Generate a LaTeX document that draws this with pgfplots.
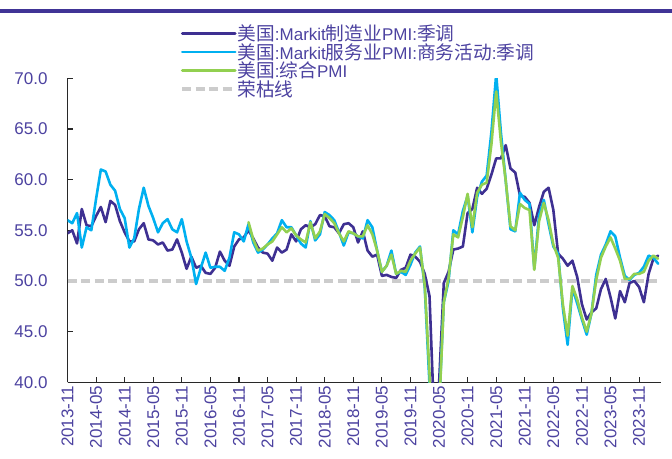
\documentclass[border=0pt]{standalone}
\usepackage{pgfplots}
\pgfplotsset{compat=1.18}
\usepackage{pgfplotstable}
\usepackage{fontspec}
\setmainfont{Liberation Sans}
\newfontfamily\cjk{Noto Sans CJK SC}[Scale=1.1]

\definecolor{mfgcol}{RGB}{62,48,146}
\definecolor{svccol}{RGB}{0,176,240}
\definecolor{cmpcol}{RGB}{146,208,80}
\definecolor{refcol}{RGB}{204,204,204}
\definecolor{txtcol}{RGB}{76,66,160}
\definecolor{barcol}{RGB}{64,52,150}
\definecolor{axcol}{RGB}{40,40,40}

% m = months since 2013-11; mfg / svc / cmp = US Markit PMIs (SA)
\pgfplotstableread{
m mfg svc cmp
0 54.7 56.0 nan
1 55.0 55.7 nan
2 53.7 56.7 nan
3 57.1 53.3 nan
4 55.5 55.3 nan
5 55.4 55.0 nan
6 56.4 58.1 nan
7 57.3 61.0 nan
8 55.8 60.8 nan
9 57.9 59.5 nan
10 57.5 58.9 nan
11 55.9 57.1 nan
12 54.8 56.2 nan
13 53.9 53.3 nan
14 53.9 54.2 nan
15 55.1 57.1 nan
16 55.7 59.2 nan
17 54.1 57.4 nan
18 54.0 56.2 nan
19 53.6 54.8 nan
20 53.8 55.7 nan
21 53.0 56.1 nan
22 53.1 55.1 nan
23 54.1 54.8 nan
24 52.8 56.1 nan
25 51.2 53.9 nan
26 52.4 52.3 nan
27 51.3 49.7 nan
28 51.5 51.3 nan
29 50.8 52.8 nan
30 50.7 51.3 nan
31 51.3 51.4 nan
32 52.9 51.4 nan
33 52.0 51.0 nan
34 51.5 52.3 nan
35 53.4 54.8 nan
36 54.1 54.6 nan
37 54.3 53.9 nan
38 55.0 55.6 55.8
39 54.2 53.8 54.1
40 53.3 52.8 53.0
41 52.8 53.1 53.2
42 52.7 53.6 53.6
43 52.0 54.2 53.9
44 53.3 54.7 54.6
45 52.8 56.0 55.3
46 53.1 55.3 54.8
47 54.6 55.3 55.2
48 53.9 54.5 54.5
49 55.1 53.7 54.1
50 55.5 53.3 53.8
51 55.3 55.9 55.8
52 55.6 54.0 54.2
53 56.5 54.6 54.9
54 56.4 56.8 56.6
55 55.4 56.5 56.2
56 55.3 56.0 55.7
57 54.7 54.8 54.7
58 55.6 53.5 53.9
59 55.7 54.8 54.9
60 55.3 54.7 54.7
61 53.8 54.4 54.4
62 54.9 54.2 54.4
63 53.0 56.0 55.5
64 52.4 55.3 54.6
65 52.6 53.0 53.0
66 50.5 50.9 50.9
67 50.6 51.5 51.5
68 50.4 53.0 52.6
69 50.3 50.7 50.7
70 51.1 50.9 51.0
71 51.3 50.6 50.9
72 52.6 51.6 52.0
73 52.4 52.8 52.7
74 51.9 53.4 53.3
75 50.7 49.4 49.6
76 48.5 39.8 40.9
77 36.1 26.7 27.0
78 39.8 37.5 37.0
79 49.8 47.9 47.9
80 50.9 50.0 50.3
81 53.1 55.0 54.6
82 53.2 54.6 54.3
83 53.4 56.9 56.3
84 56.7 58.4 58.6
85 57.1 54.8 55.3
86 59.2 58.3 58.7
87 58.6 59.8 59.5
88 59.1 60.4 59.7
89 60.5 64.7 63.5
90 62.1 70.4 68.7
91 62.1 64.6 63.7
92 63.4 59.9 59.9
93 61.1 55.1 55.4
94 60.7 54.9 55.0
95 58.4 58.7 57.6
96 58.3 58.0 57.2
97 57.7 57.6 57.0
98 55.5 51.2 51.1
99 57.3 56.5 55.9
100 58.8 58.0 57.7
101 59.2 55.6 56.0
102 57.0 53.4 53.6
103 52.7 52.7 52.3
104 52.2 47.3 47.7
105 51.5 43.7 44.6
106 52.0 49.3 49.5
107 50.4 47.8 48.2
108 47.7 46.2 46.4
109 46.2 44.7 45.0
110 46.9 46.8 46.8
111 47.3 50.6 50.1
112 49.2 52.6 52.3
113 50.2 53.6 53.4
114 48.4 54.9 54.3
115 46.3 54.4 53.2
116 49.0 52.3 52.0
117 47.9 50.5 50.2
118 49.8 50.1 50.2
119 50.0 50.6 50.7
120 49.4 50.8 50.7
121 47.9 51.4 50.9
122 50.7 52.5 52.0
123 52.2 52.3 52.5
124 52.5 51.7 52.2
}\pmidata

\pgfplotstableread{
m v
0 50
124.6 50
}\refline

\begin{document}
\begin{tikzpicture}
\useasboundingbox (0,0) rectangle (672pt,458pt);
\fill[barcol] (0,445pt) rectangle (672pt,449pt);
\begin{axis}[
  at={(67.5pt,75.7pt)}, anchor=south west,
  scale only axis, width=593.5pt, height=304pt,
  xmin=0, xmax=124.6, ymin=40, ymax=70,
  clip=true,
  axis x line=bottom, axis y line=left,
  axis line style={-, axcol, line width=1.2pt},
  tick style={axcol, line width=1.1pt},
  tick align=inside, major tick length=5pt,
  xtick={0,6,...,120},
  xticklabels={2013-11,2014-05,2014-11,2015-05,2015-11,2016-05,2016-11,2017-05,2017-11,2018-05,2018-11,2019-05,2019-11,2020-05,2020-11,2021-05,2021-11,2022-05,2022-11,2023-05,2023-11},
  x tick label style={rotate=90, anchor=east, font=\fontsize{17}{20}\selectfont, text=txtcol},
  ytick={40,45,...,70},
  y tick label style={xshift=-16.5pt, font=\fontsize{17}{20}\selectfont, text=txtcol,
    /pgf/number format/.cd, fixed, fixed zerofill, precision=1, assume math mode=true},
  legend style={at={(axis description cs:0.19,1.178)}, anchor=north west,
    draw=none, fill=none, inner sep=0pt, row sep=0pt,
    font=\fontsize{17}{18.5}\selectfont, text=txtcol,
    nodes={inner sep=0.6pt}},
  legend cell align=left,
  legend image code/.code={\draw[#1] (0pt,0pt) -- (53pt,0pt);},
  every axis plot/.append style={line join=round, line cap=round},
]
\addplot[refcol, line width=3.5pt, dash pattern=on 9pt off 4.5pt, line cap=butt, forget plot] table[x=m, y=v] {\refline};
\addplot[mfgcol, line width=2.6pt] table[x=m, y=mfg] {\pmidata};
\addlegendentry{{\cjk 美国}:Markit{\cjk 制造业}PMI:{\cjk 季调}}
\addplot[svccol, line width=2.6pt] table[x=m, y=svc] {\pmidata};
\addlegendentry{{\cjk 美国}:Markit{\cjk 服务业}PMI:{\cjk 商务活动}:{\cjk 季调}}
\addplot[cmpcol, line width=2.6pt, unbounded coords=discard] table[x=m, y=cmp] {\pmidata};
\addlegendentry{{\cjk 美国}:{\cjk 综合}PMI}
\addlegendimage{refcol, line width=3.5pt, dash pattern=on 9pt off 4.5pt, line cap=butt}
\addlegendentry{{\cjk 荣枯线}}
\end{axis}
\end{tikzpicture}
\end{document}
